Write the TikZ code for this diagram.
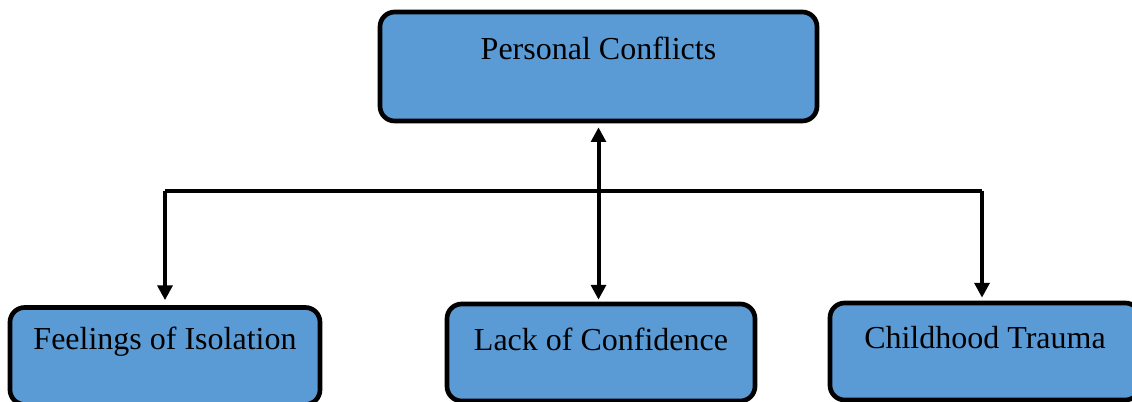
\documentclass[tikz,border=0pt]{standalone}
\usepackage{fontspec}
\setmainfont{Liberation Serif}
\usetikzlibrary{arrows.meta}
\definecolor{boxblue}{HTML}{5B9BD5}
\tikzset{
  box/.style={draw=black, line width=3.5pt, fill=boxblue, rounded corners=11pt, inner sep=0pt},
  lbl/.style={font=\fontsize{24}{28}\selectfont, inner sep=0pt, anchor=center},
  link/.style={line width=3pt},
  arr/.style={line width=3pt, -{Triangle[length=11pt,width=11pt]}},
  darr/.style={line width=3pt, {Triangle[length=11pt,width=11pt]}-{Triangle[length=11pt,width=11pt]}}
}
\begin{document}
\begin{tikzpicture}[x=0.75pt,y=-0.75pt]
\useasboundingbox (0,0) rectangle (1132,402);
\clip (0,0) rectangle (1132,402);
% top box
\node[box, minimum width=437*0.75pt, minimum height=109*0.75pt] (top) at (598.5,66.5) {};
\node[lbl] (topt) at (598.5,48) {Personal Conflicts};
% bottom boxes
\node[box, minimum width=310*0.75pt, minimum height=97*0.75pt] (iso) at (165,356) {};
\node[lbl] (isot) at (165,342) {Feelings of Isolation};
\node[box, minimum width=308*0.75pt, minimum height=97*0.75pt] (conf) at (601,352.5) {};
\node[lbl] (conft) at (601,339) {Lack of Confidence};
\node[box, minimum width=310*0.75pt, minimum height=97*0.75pt] (trauma) at (985,351.5) {};
\node[lbl] (traumat) at (985,338) {Childhood Trauma};
% branch line
\coordinate (hl) at (165,191);
\coordinate (hr) at (982,191);
\draw[link] (hl) -- (hr);
\draw[arr, shorten >=5*0.75pt] (hl) -- (hl |- iso.north);
\draw[arr, shorten >=3*0.75pt] (hr) -- (hr |- trauma.north);
\draw[darr, shorten <=4*0.75pt, shorten >=2*0.75pt] (top.south) -- (top.south |- conf.north);
\end{tikzpicture}
\end{document}
